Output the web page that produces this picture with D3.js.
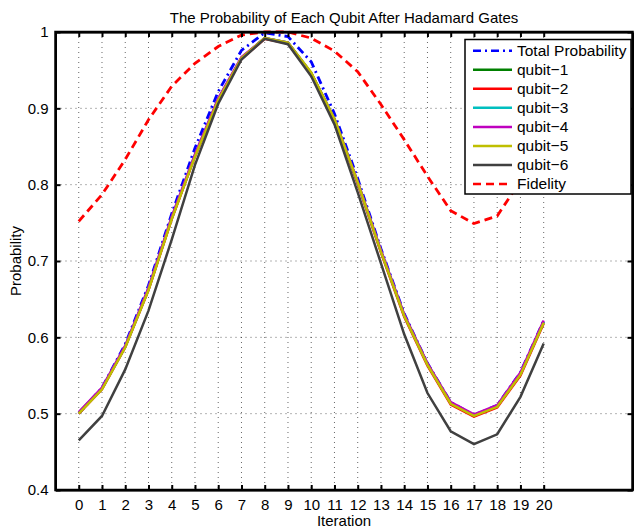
<!DOCTYPE html>
<meta charset="utf-8">
<title>The Probability of Each Qubit After Hadamard Gates</title>

<style>
	body {
		margin: 0;
		background-color: #fff;
		font-family: 'Liberation Sans', Arial, sans-serif;
	}

	.grid line {
		stroke: #000;
		stroke-opacity: 0.6;
		stroke-width: 1;
		stroke-dasharray: 1, 4;
	}

	.axis path,
	.axis line {
		stroke: #000;
		stroke-width: 2;
	}

	.axis text {
		font-size: 15px;
		fill: #000;
	}
</style>

<body>
	<div id="chart"></div>

	<script src="https://d3js.org/d3.v7.min.js"></script>
	<script>
		// ----- DATA -----
		var iterations = d3.range(0, 21);
		var yTicks = [0.4, 0.5, 0.6, 0.7, 0.8, 0.9, 1];

		var totalProb = [0.500, 0.534, 0.591, 0.668, 0.762, 0.848, 0.922, 0.976, 0.999, 0.994, 0.961, 0.893, 0.808, 0.716, 0.631, 0.566, 0.515, 0.498, 0.511, 0.554, 0.622];
		var qubit1 = [0.501, 0.533, 0.588, 0.663, 0.756, 0.838, 0.912, 0.966, 0.992, 0.986, 0.946, 0.886, 0.803, 0.713, 0.629, 0.565, 0.514, 0.497, 0.510, 0.552, 0.620];
		var qubit2 = [0.500, 0.532, 0.587, 0.662, 0.755, 0.837, 0.911, 0.965, 0.991, 0.985, 0.945, 0.885, 0.801, 0.711, 0.627, 0.563, 0.512, 0.496, 0.508, 0.550, 0.618];
		var qubit3 = [0.501, 0.533, 0.588, 0.664, 0.757, 0.839, 0.912, 0.966, 0.992, 0.986, 0.946, 0.886, 0.803, 0.713, 0.629, 0.565, 0.514, 0.498, 0.510, 0.552, 0.620];
		var qubit4 = [0.502, 0.534, 0.589, 0.665, 0.758, 0.840, 0.913, 0.967, 0.992, 0.986, 0.946, 0.886, 0.804, 0.714, 0.630, 0.566, 0.515, 0.499, 0.511, 0.554, 0.622];
		var qubit5 = [0.500, 0.532, 0.587, 0.662, 0.755, 0.837, 0.911, 0.966, 0.992, 0.986, 0.947, 0.886, 0.803, 0.712, 0.628, 0.564, 0.513, 0.497, 0.509, 0.551, 0.619];
		var qubit6 = [0.465, 0.497, 0.558, 0.635, 0.728, 0.826, 0.906, 0.964, 0.991, 0.984, 0.942, 0.879, 0.790, 0.697, 0.604, 0.527, 0.477, 0.460, 0.473, 0.522, 0.592];
		var fidelity = [0.752, 0.787, 0.833, 0.885, 0.929, 0.959, 0.981, 0.996, 1.000, 1.000, 0.992, 0.975, 0.948, 0.905, 0.859, 0.811, 0.766, 0.749, 0.759, 0.805, 0.852];

		// series in plot order (= legend order)
		var series = [
			{ name: "Total Probability", values: totalProb, color: "#0000ff", dash: "8,4,2,4" },
			{ name: "qubit\u22121", values: qubit1, color: "#008000", dash: null },
			{ name: "qubit\u22122", values: qubit2, color: "#ff0000", dash: null },
			{ name: "qubit\u22123", values: qubit3, color: "#00bfbf", dash: null },
			{ name: "qubit\u22124", values: qubit4, color: "#bf00bf", dash: null },
			{ name: "qubit\u22125", values: qubit5, color: "#bfbf00", dash: null },
			{ name: "qubit\u22126", values: qubit6, color: "#404040", dash: null },
			{ name: "Fidelity", values: fidelity, color: "#ff0000", dash: "8,5" }
		];

		(function () {
			// ----- LAYOUT -----
			var width = 634,
				height = 529;
			var plotLeft = 55.5,
				plotRight = 632.5,
				plotTop = 32,
				plotBottom = 490;

			// x axis runs from -1 to about 23.8 (the figure is cut on the right)
			var x = d3.scaleLinear().domain([-1, 23.82]).range([plotLeft, plotRight]);
			var y = d3.scaleLinear().domain([0.4, 1]).range([plotBottom, plotTop]);

			var svg = d3.select("#chart").append("svg")
				.attr("width", width)
				.attr("height", height);

			// grid
			var grid = svg.append("g").attr("class", "grid");
			grid.selectAll(".gx").data(iterations).enter().append("line")
				.attr("x1", function (d) { return x(d); })
				.attr("x2", function (d) { return x(d); })
				.attr("y1", plotTop)
				.attr("y2", plotBottom);
			grid.selectAll(".gy").data(yTicks).enter().append("line")
				.attr("x1", plotLeft)
				.attr("x2", plotRight)
				.attr("y1", function (d) { return y(d); })
				.attr("y2", function (d) { return y(d); });

			// lines
			var line = d3.line()
				.x(function (d, i) { return x(iterations[i]); })
				.y(function (d) { return y(d); });

			svg.append("g").selectAll("path").data(series).enter().append("path")
				.attr("d", function (d) { return line(d.values); })
				.attr("fill", "none")
				.attr("stroke", function (d) { return d.color; })
				.attr("stroke-width", function (d) { return d.dash ? 2.8 : 2.5; })
				.attr("stroke-dasharray", function (d) { return d.dash; });

			// axes, ticks on all four sides pointing inward
			svg.append("g").attr("class", "axis")
				.attr("transform", "translate(0," + plotBottom + ")")
				.call(d3.axisBottom(x).tickValues(iterations).tickSizeInner(-5).tickSizeOuter(0).tickPadding(9).tickFormat(d3.format("d")));
			svg.append("g").attr("class", "axis")
				.attr("transform", "translate(0," + plotTop + ")")
				.call(d3.axisTop(x).tickValues(iterations).tickSizeInner(-5).tickSizeOuter(0).tickFormat(""));
			svg.append("g").attr("class", "axis")
				.attr("transform", "translate(" + plotLeft + ",0)")
				.call(d3.axisLeft(y).tickValues(yTicks).tickSizeInner(-5).tickSizeOuter(0).tickPadding(7).tickFormat(function (d) { return d === 1 ? "1" : d3.format(".1f")(d); }));
			svg.append("g").attr("class", "axis")
				.attr("transform", "translate(" + plotRight + ",0)")
				.call(d3.axisRight(y).tickValues(yTicks).tickSizeInner(-5).tickSizeOuter(0).tickFormat(""));

			// box
			svg.append("rect")
				.attr("x", plotLeft).attr("y", plotTop)
				.attr("width", plotRight - plotLeft).attr("height", plotBottom - plotTop)
				.attr("fill", "none").attr("stroke", "#000").attr("stroke-width", 2.5);

			// titles
			svg.append("text")
				.attr("x", (plotLeft + plotRight) / 2).attr("y", 23)
				.attr("text-anchor", "middle")
				.style("font-size", "15px")
				.text("The Probability of Each Qubit After Hadamard Gates");
			svg.append("text")
				.attr("x", (plotLeft + plotRight) / 2).attr("y", 526)
				.attr("text-anchor", "middle")
				.style("font-size", "15px")
				.text("Iteration");
			svg.append("text")
				.attr("transform", "translate(21," + (plotTop + plotBottom) / 2 + ") rotate(-90)")
				.attr("text-anchor", "middle")
				.style("font-size", "15px")
				.text("Probability");

			// legend
			var legend = svg.append("g");
			legend.append("rect")
				.attr("x", 465).attr("y", 39.5)
				.attr("width", 166).attr("height", 154.5)
				.attr("fill", "#fff").attr("stroke", "#000").attr("stroke-width", 1.5);

			var item = legend.selectAll(".item").data(series).enter().append("g")
				.attr("transform", function (d, i) { return "translate(0," + (50.7 + i * 19.05) + ")"; });
			item.append("line")
				.attr("x1", 473).attr("x2", 512)
				.attr("stroke", function (d) { return d.color; })
				.attr("stroke-width", 2.5)
				.attr("stroke-dasharray", function (d) { return d.dash; });
			item.append("text")
				.attr("x", 517)
				.attr("dy", "0.35em")
				.style("font-size", "15.5px")
				.text(function (d) { return d.name; });
		})();
	</script>
</body>
